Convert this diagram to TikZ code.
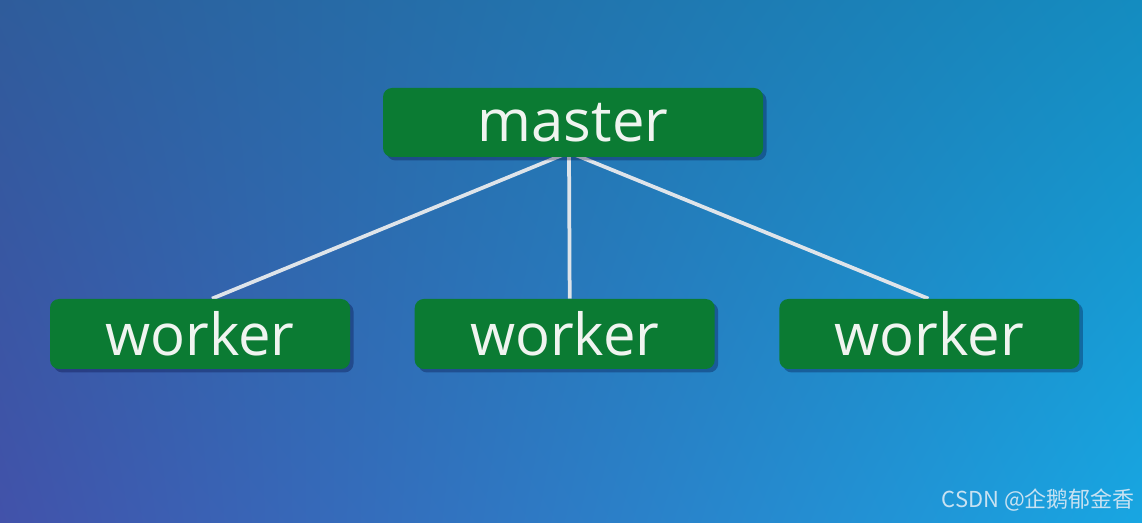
\documentclass[tikz,border=0pt]{standalone}
\usepackage{fontspec}
\setmainfont{Open Sans}
\newfontfamily\cjkfont{Noto Sans CJK SC}
\usepackage{xcolor}
\usetikzlibrary{positioning, shadows, backgrounds, shadings}

\definecolor{nodegreen}{RGB}{11,123,51}
\definecolor{linkgray}{RGB}{222,228,234}
\definecolor{labelwhite}{RGB}{240,244,240}
\definecolor{markblue}{RGB}{200,226,242}
\definecolor{bgul}{RGB}{47,92,155}
\definecolor{bgur}{RGB}{20,140,192}
\definecolor{bgll}{RGB}{66,82,170}
\definecolor{bglr}{RGB}{24,166,226}

\begin{document}
\begin{tikzpicture}[
    masterbox/.style={rectangle, rounded corners=0.18cm, fill=nodegreen,
        minimum width=7.6cm, minimum height=1.38cm, inner sep=0pt,
        text=labelwhite, font=\fontsize{33}{36}\selectfont,
        drop shadow={shadow xshift=0.07cm, shadow yshift=-0.07cm, fill=black!80!blue, opacity=0.3}},
    workerbox/.style={masterbox, minimum width=6cm, minimum height=1.4cm},
    link/.style={draw=linkgray, line width=0.075cm},
    wmark/.style={text=markblue, font=\cjkfont\fontsize{12.5}{14}\selectfont, inner sep=0pt},
]
\useasboundingbox (0,0) rectangle (22.84,-10.46);

\node[masterbox] (master) at (11.46,-2.45) {master};
\node[workerbox] (w1) at (4.0,-6.68) {worker};
\node[workerbox, right=1.28cm of w1] (w2) {worker};
\node[workerbox, right=1.28cm of w2] (w3) {worker};

\coordinate (hub) at ([xshift=-0.08cm, yshift=0.1cm]master.south);

\begin{scope}[on background layer]
\shade[shading=bilinear interpolation,
       upper left=bgul, upper right=bgur,
       lower left=bgll, lower right=bglr]
    (0,0) rectangle (22.84,-10.46);
\draw[link] (hub) -- ([xshift=0.24cm]w1.north);
\draw[link] (hub) -- ([xshift=0.1cm]w2.north);
\draw[link] (hub) -- ([xshift=-0.02cm]w3.north);
\end{scope}

\node[wmark, anchor=base east] (wm) at (22.7,-10.14) {CSDN @企鹅郁金香};
\end{tikzpicture}
\end{document}
